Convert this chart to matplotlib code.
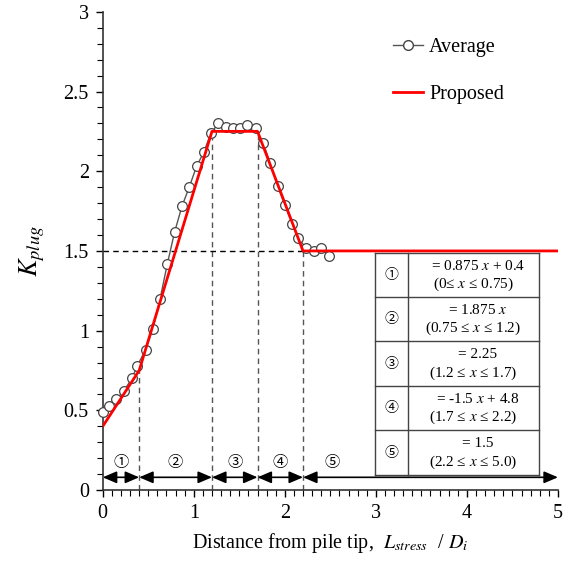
import numpy as np
import matplotlib
matplotlib.use("Agg")
import matplotlib.pyplot as plt
from matplotlib.ticker import MultipleLocator
from matplotlib.lines import Line2D

plt.rcParams['font.family'] = ['Liberation Serif', 'DejaVu Serif']
plt.rcParams['mathtext.fontset'] = 'stix'

# measured average curve
avg_x = [0.00, 0.07, 0.15, 0.23, 0.32, 0.38, 0.47, 0.55, 0.63, 0.71, 0.79,
         0.87, 0.95, 1.03, 1.11, 1.19, 1.27, 1.35, 1.43, 1.51, 1.59, 1.68,
         1.76, 1.84, 1.92, 2.00, 2.08, 2.15, 2.23, 2.32, 2.40, 2.48]
avg_y = [0.49, 0.53, 0.57, 0.62, 0.70, 0.78, 0.88, 1.01, 1.20, 1.42, 1.62,
         1.78, 1.90, 2.03, 2.12, 2.24, 2.30, 2.28, 2.27, 2.27, 2.29, 2.27,
         2.18, 2.05, 1.91, 1.79, 1.67, 1.58, 1.52, 1.50, 1.52, 1.47]

# proposed piecewise line
prop_x = [0.0, 0.4, 1.2, 1.7, 2.2, 5.0]
prop_y = [0.4, 0.75, 2.25, 2.25, 1.5, 1.5]

zone_labels = ['①', '②', '③', '④', '⑤']
eq_lines = ['= 0.875 $x$ + 0.4', '= 1.875 $x$', '= 2.25', '= -1.5 $x$ + 4.8', '= 1.5']
range_lines = ['(0≤ $x$ ≤ 0.75)', '(0.75 ≤ $x$ ≤ 1.2)', '(1.2 ≤ $x$ ≤ 1.7)',
               '(1.7 ≤ $x$ ≤ 2.2)', '(2.2 ≤ $x$ ≤ 5.0)']

circ_font = ['Noto Sans CJK JP', 'DejaVu Sans']

fig = plt.figure(figsize=(5.74, 5.62), dpi=100)
ax = fig.add_axes([0.179, 0.128, 0.793, 0.851])

# dashed guide lines
brk = prop_x[1:5]
for bx in brk:
    ax.plot([bx, bx], [0, np.interp(bx, prop_x, prop_y)], color='#555555',
            lw=1.0, ls=(0, (4, 3)), zorder=1)
ax.plot([0, prop_x[4]], [prop_y[4], prop_y[4]], color='black', lw=1.0,
        ls=(0, (4, 3)), zorder=1)

ax.plot(avg_x, avg_y, color='#555555', lw=1.0, marker='o', ms=7,
        mfc='white', mec='#444444', mew=0.9, zorder=3, clip_on=False)
ax.plot(prop_x, prop_y, color='red', lw=2.0, zorder=4)

# zone arrows
for i in range(5):
    x0, x1 = prop_x[i], prop_x[i + 1]
    ax.annotate('', xy=(x1, 0.08), xytext=(x0, 0.08),
                arrowprops=dict(arrowstyle='<|-|>,head_length=0.7,head_width=0.3',
                                color='black', lw=1.2, shrinkA=0, shrinkB=0,
                                mutation_scale=12))
for i in range(4):
    ax.text((prop_x[i] + prop_x[i + 1]) / 2, 0.175, zone_labels[i],
            ha='center', va='center', fontsize=11, family=circ_font)
ax.text(2.52, 0.175, zone_labels[4], ha='center', va='center', fontsize=11,
        family=circ_font)

# equation table
tx0, tx1, tx2 = 2.99, 3.35, 4.79
ty_top, ty_bot = 1.49, 0.095
rh = (ty_top - ty_bot) / 5
tcol = '#444444'
for k in range(6):
    yy = ty_top - k * rh
    ax.plot([tx0, tx2], [yy, yy], color=tcol, lw=1.0, zorder=2)
for xx in (tx0, tx1, tx2):
    ax.plot([xx, xx], [ty_bot, ty_top], color=tcol, lw=1.0, zorder=2)
for k in range(5):
    yc = ty_top - (k + 0.5) * rh
    ax.text((tx0 + tx1) / 2, yc, zone_labels[k], ha='center', va='center',
            fontsize=10, family=circ_font)
    ax.text((tx1 + tx2) / 2 + 0.05, yc + 0.055, eq_lines[k], ha='center',
            va='center', fontsize=11)
    ax.text((tx1 + tx2) / 2, yc - 0.058, range_lines[k], ha='center',
            va='center', fontsize=11)

ax.set_xlim(0, 5)
ax.set_ylim(0, 3)
ax.xaxis.set_major_locator(MultipleLocator(1))
ax.xaxis.set_minor_locator(MultipleLocator(0.1))
ax.yaxis.set_major_locator(MultipleLocator(0.5))
ax.yaxis.set_minor_locator(MultipleLocator(0.1))
ax.set_yticks([0, 0.5, 1, 1.5, 2, 2.5, 3])
ax.set_yticklabels(['0', '0.5', '1', '1.5', '2', '2.5', '3'])
ax.tick_params(which='major', direction='out', length=5, width=1, labelsize=14.5, pad=5)
ax.tick_params(which='minor', direction='out', length=4, width=0.8)
ax.spines['top'].set_visible(False)
ax.spines['right'].set_visible(False)
for s in ('left', 'bottom'):
    ax.spines[s].set_color('#333333')
    ax.spines[s].set_linewidth(1.2)

ax.set_xlabel('Distance from pile tip,  $L_{stress}$  / $D_i$', fontsize=14.5, labelpad=6)
ax.set_ylabel('$K_{plug}$', fontsize=19, labelpad=12)

handles = [Line2D([], [], color='#555555', lw=1.0, marker='o', ms=7, mfc='white',
                  mec='#444444'),
           Line2D([], [], color='red', lw=2.0)]
ax.legend(handles, ['Average', 'Proposed'], loc='upper left',
          bbox_to_anchor=(0.637, 0.945), frameon=False, fontsize=14.5,
          handlelength=1.5, handletextpad=0.3, labelspacing=1.4,
          borderpad=0, borderaxespad=0)

fig.savefig('out.png', dpi=100)
